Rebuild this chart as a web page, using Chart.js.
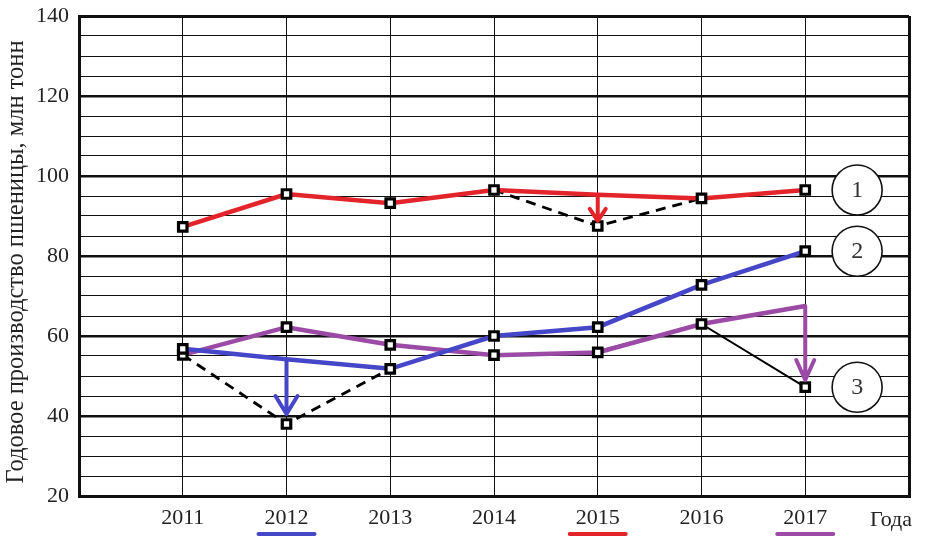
<!DOCTYPE html>
<html>
<head>
  <meta charset="UTF-8">
  <title>Wheat</title>
  <script src="https://cdn.jsdelivr.net/npm/chart.js"></script>
</head>
<body style="margin:0;background:#fff">
  <div style="width:926px;height:541px"><canvas id="chart"></canvas></div>
  <script>
    const years = [2011, 2012, 2013, 2014, 2015, 2016, 2017];
    // trend lines
    const red    = [87.3, 95.5, 93.2, 96.5, 95.3, 94.4, 96.5];
    const blue   = [56.8, 54.2, 51.8, 60.0, 62.2, 72.8, 81.2];
    const purple = [55.3, 62.2, 57.8, 55.2, 55.9, 63.0, 67.5];
    // black corrections
    const dash1Years = [2014, 2015, 2016];
    const dash1 = [96.5, 87.5, 94.4];
    const dash2Years = [2011, 2012, 2013];
    const dash2 = [55.3, 38.0, 51.8];
    const solid3Years = [2015, 2016, 2017];
    const solid3 = [56.2, 63.0, 47.2];
    // arrows
    const arrowYears = [2015, 2012, 2017];
    const arrowFrom = [95.3, 53.8, 67.5];
    const arrowTo = [88.8, 40.5, 49.0];
    const arrowColors = ['#e3242b', '#4646c8', '#9b4aa6'];
    const arrowHeads = [[8, 12], [11, 18], [9, 20]];
    // circled numbers next to 2017
    const circleLabels = ['1', '2', '3'];
    const circleValues = [96.5, 81.2, 47.2];
    // underlined years
    const underlineYears = [2012, 2015, 2017];
    const underlineColors = ['#4646c8', '#e3242b', '#9b4aa6'];
    const yTitle = 'Годовое производство пшеницы, млн тонн';

    const serif = "'Liberation Serif', 'DejaVu Serif', serif";
    const pts = (xs, ys) => xs.map((x, i) => ({ x: x, y: ys[i] }));
    const mask = (arr, skip) => arr.map((_, i) => (skip.includes(i) ? 0 : 6));

    const extras = {
      id: 'extras',
      afterDatasetsDraw(chart) {
        const { ctx, scales: { x, y } } = chart;
        ctx.save();
        // arrows
        arrowYears.forEach((yr, i) => {
          const px = x.getPixelForValue(yr);
          const y0 = y.getPixelForValue(arrowFrom[i]);
          const y1 = y.getPixelForValue(arrowTo[i]);
          const [hw, hh] = arrowHeads[i];
          ctx.strokeStyle = arrowColors[i];
          ctx.lineWidth = 4;
          ctx.lineCap = 'round';
          ctx.lineJoin = 'round';
          ctx.beginPath();
          ctx.moveTo(px, y0);
          ctx.lineTo(px, y1);
          ctx.moveTo(px - hw, y1 - hh);
          ctx.lineTo(px, y1);
          ctx.lineTo(px + hw, y1 - hh);
          ctx.stroke();
        });
        // circles
        circleLabels.forEach((t, i) => {
          const cx = x.getPixelForValue(2017.5);
          const cy = y.getPixelForValue(circleValues[i]);
          ctx.beginPath();
          ctx.arc(cx, cy, 25, 0, Math.PI * 2);
          ctx.fillStyle = '#fff';
          ctx.fill();
          ctx.lineWidth = 1.6;
          ctx.strokeStyle = '#111';
          ctx.stroke();
          ctx.fillStyle = '#333';
          ctx.font = '24px ' + serif;
          ctx.textAlign = 'center';
          ctx.textBaseline = 'middle';
          ctx.fillText(t, cx, cy + 1);
        });
        // underlines
        underlineYears.forEach((yr, i) => {
          const px = x.getPixelForValue(yr);
          ctx.strokeStyle = underlineColors[i];
          ctx.lineWidth = 4;
          ctx.lineCap = 'round';
          ctx.beginPath();
          ctx.moveTo(px - 28, 534);
          ctx.lineTo(px + 28, 534);
          ctx.stroke();
        });
        // axis names
        ctx.fillStyle = '#222';
        ctx.font = '22px ' + serif;
        ctx.textAlign = 'center';
        ctx.textBaseline = 'middle';
        ctx.fillText('Года', 891, 520);
        ctx.translate(17, 262);
        ctx.rotate(-Math.PI / 2);
        ctx.font = '24.5px ' + serif;
        ctx.fillText(yTitle, 0, 0);
        ctx.restore();
      }
    };

    const marker = { pointStyle: 'rect', pointBorderColor: '#000', pointBackgroundColor: '#fff', pointBorderWidth: 3.2 };

    new Chart(document.getElementById('chart'), {
      type: 'line',
      data: {
        datasets: [
          Object.assign({ data: pts(years, red), borderColor: '#e3242b', borderWidth: 4.5, pointRadius: mask(red, [4]), order: 1 }, marker),
          Object.assign({ data: pts(years, blue), borderColor: '#4646c8', borderWidth: 4.5, pointRadius: mask(blue, [1]), order: 2 }, marker),
          Object.assign({ data: pts(years, purple), borderColor: '#9b4aa6', borderWidth: 4.5, pointRadius: mask(purple, [6]), order: 3 }, marker),
          Object.assign({ data: pts(dash1Years, dash1), borderColor: '#000', borderWidth: 2.8, borderDash: [10, 7], pointRadius: mask(dash1, [0, 2]), order: 5 }, marker),
          Object.assign({ data: pts(dash2Years, dash2), borderColor: '#000', borderWidth: 2.8, borderDash: [10, 7], pointRadius: mask(dash2, [0, 2]), order: 5 }, marker),
          Object.assign({ data: pts(solid3Years, solid3), borderColor: '#000', borderWidth: 2, pointRadius: mask(solid3, [0, 1]), order: 4 }, marker)
        ]
      },
      options: {
        responsive: true,
        maintainAspectRatio: false,
        animation: false,
        layout: { padding: { top: 16, right: 17, left: 0, bottom: 0 } },
        plugins: { legend: { display: false }, tooltip: { enabled: false } },
        scales: {
          x: {
            type: 'linear',
            min: 2010,
            max: 2018,
            afterFit: s => { s.height = 45; s.paddingLeft = 0; s.paddingRight = 0; },
            ticks: {
              stepSize: 1,
              autoSkip: false,
              maxRotation: 0,
              padding: 9,
              color: '#222',
              font: { family: serif, size: 22 },
              callback: v => (years.includes(v) ? String(v) : '')
            },
            grid: {
              color: '#111',
              drawTicks: false,
              lineWidth: c => (c.tick && (c.tick.value === 2010 || c.tick.value === 2018) ? 3 : 1)
            },
            border: { display: true, color: '#111', width: 3 }
          },
          y: {
            min: 20,
            max: 140,
            afterFit: s => { s.width = 79; s.paddingTop = 0; s.paddingBottom = 0; },
            ticks: {
              stepSize: 5,
              autoSkip: false,
              maxTicksLimit: 40,
              padding: 10,
              color: '#222',
              font: { family: serif, size: 22 },
              callback: v => (v % 20 === 0 ? String(v) : '')
            },
            grid: {
              color: '#111',
              drawTicks: false,
              lineWidth: c => {
                const v = c.tick ? c.tick.value : 0;
                if (v === 20 || v === 140) return 3;
                return v % 20 === 0 ? 2.4 : 1;
              }
            },
            border: { display: true, color: '#111', width: 3 }
          }
        }
      },
      plugins: [extras]
    });
  </script>
</body>
</html>
